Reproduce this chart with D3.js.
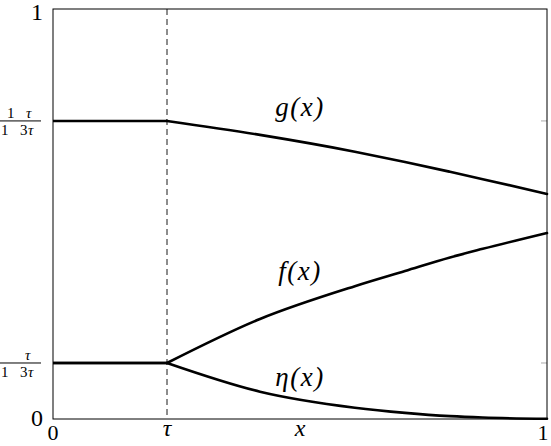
<!DOCTYPE html>
<html>
<head>
<meta charset="utf-8">
<script src="https://cdn.jsdelivr.net/npm/d3@7"></script>
<style>
  body { margin: 0; background: #fff; }
</style>
</head>
<body>
<div id="chart"></div>
<script>
// values
var tau = 0.2308;
var xs      = [0, tau, 0.419, 0.611, 0.7126, 0.8036, 0.87, 1];
var gVals   = [0.727, 0.727, 0.693, 0.652, 0.627, 0.603, 0.585, 0.549];
var fVals   = [0.1366, 0.1366, 0.244, 0.324, 0.361, 0.394, 0.415, 0.4537];
var etaVals = [0.1366, 0.1366, 0.0666, 0.0276, 0.0150, 0.0070, 0.0035, 0.0005];
var yTicks = [0.1366, 0.727];

var width = 551, height = 446;
var margin = {top: 9, left: 53, right: 4, bottom: 27};
var serif = "Liberation Serif";

var svg = d3.select("#chart").append("svg")
	.attr("width", width)
	.attr("height", height);

var x = d3.scaleLinear().domain([0, 1]).range([margin.left, width - margin.right]);
var y = d3.scaleLinear().domain([0, 1]).range([height - margin.bottom, margin.top]);

// small tick marks
yTicks.forEach(function (t) {
	svg.append("line")
		.attr("x1", x(1) - 6).attr("x2", x(1))
		.attr("y1", y(t)).attr("y2", y(t))
		.attr("stroke", "#aaa").attr("stroke-width", 1);
	svg.append("line")
		.attr("x1", x(0)).attr("x2", x(0) + 6)
		.attr("y1", y(t)).attr("y2", y(t))
		.attr("stroke", "#aaa").attr("stroke-width", 1);
});

// dashed line at tau
svg.append("line")
	.attr("x1", x(tau)).attr("x2", x(tau))
	.attr("y1", y(1)).attr("y2", y(0))
	.attr("stroke", "#000").attr("stroke-width", 0.9)
	.attr("stroke-dasharray", "6,4");

// frame
svg.append("rect")
	.attr("x", x(0)).attr("y", y(1))
	.attr("width", x(1) - x(0)).attr("height", y(0) - y(1))
	.attr("fill", "none").attr("stroke", "#000").attr("stroke-width", 1);

var flat = d3.line().x(function (d) { return x(d[0]); }).y(function (d) { return y(d[1]); });
var curve = d3.line().curve(d3.curveMonotoneX)
	.x(function (d) { return x(d[0]); }).y(function (d) { return y(d[1]); });

[gVals, fVals, etaVals].forEach(function (vals) {
	var pts = xs.map(function (xv, i) { return [xv, vals[i]]; });
	svg.append("path").attr("d", flat(pts.slice(0, 2)))
		.attr("fill", "none").attr("stroke", "#000").attr("stroke-width", 2.6);
	svg.append("path").attr("d", curve(pts.slice(1)))
		.attr("fill", "none").attr("stroke", "#000").attr("stroke-width", 2.6)
		.attr("stroke-linecap", "round");
});

// axis labels
function label(px, py, txt, size, italic, anchor) {
	var t = svg.append("text").attr("x", px).attr("y", py)
		.attr("text-anchor", anchor || "middle")
		.attr("font-family", serif)
		.attr("font-size", size);
	if (italic) t.attr("font-style", "italic");
	return t.text(txt);
}
label(43, y(1) + 11, "1", 24, false, "end");
label(43, y(0) + 7, "0", 24, false, "end");
label(x(0), 440, "0", 22, false);
label(x(1) - 4, 440, "1", 22, false);
label(x(tau), 436, "τ", 24, true);
label(300, 436, "x", 24, true);

// fraction labels on the y axis
function fraction(yv, numParts) {
	var py = y(yv);
	svg.append("line").attr("x1", 0).attr("x2", 41).attr("y1", py).attr("y2", py)
		.attr("stroke", "#000").attr("stroke-width", 1);
	var num = svg.append("text").attr("y", py - 3)
		.attr("font-family", serif).attr("font-size", 15);
	numParts.forEach(function (p) {
		var s = num.append("tspan").attr("x", p[0]).text(p[1]);
		if (p[2]) s.attr("font-style", "italic");
	});
	var den = svg.append("text").attr("y", py + 14)
		.attr("font-family", serif).attr("font-size", 15);
	den.append("tspan").attr("x", 1).text("1");
	den.append("tspan").attr("x", 20).text("3");
	den.append("tspan").attr("x", 28).attr("font-style", "italic").text("τ");
}
fraction(0.727, [[7, "1", false], [26, "τ", true]]);
fraction(0.1366, [[25, "τ", true]]);

// curve labels
label(300, 116, "g(x)", 27, true).attr("letter-spacing", 1.5);
label(300, 280, "f(x)", 27, true).attr("letter-spacing", 1.5);
label(300, 386, "η(x)", 27, true).attr("letter-spacing", 1.5);
</script>
</body>
</html>
